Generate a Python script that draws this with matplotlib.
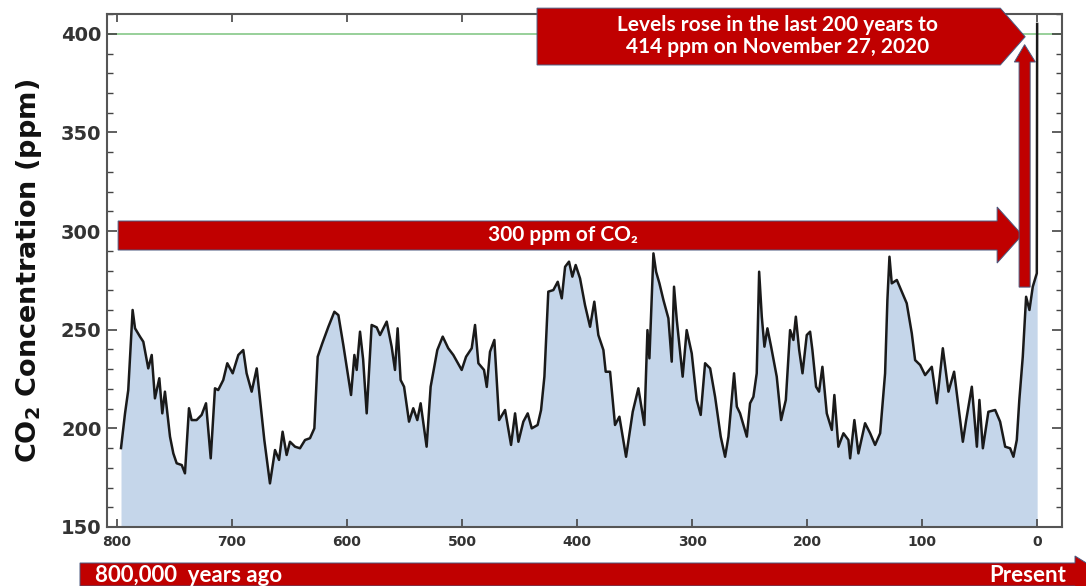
import matplotlib
matplotlib.use("Agg")
import matplotlib.pyplot as plt
from matplotlib.patches import Polygon
from matplotlib.ticker import MultipleLocator

# CO2 record, thousands of years before present vs ppm
ages = [796.5, 793, 790.2, 786.4, 784.3, 780, 777.1, 772.8, 769.8, 767, 763.2, 760.6, 758.3,
        753.9, 751, 748.1, 743.7, 740.9, 737.4, 735.1, 730.8, 726.4, 722.6, 718.5, 714.8, 712,
        707.6, 704.1, 699.4, 694.5, 690.2, 687.3, 682.9, 678.5, 675.7, 671.9, 667, 662.6, 659.1,
        656, 652.5, 649.6, 645.2, 640.9, 636.5, 632.2, 628.4, 625.5, 621.5, 616.2, 611, 607.5,
        603.2, 596.5, 593.6, 591.6, 588.7, 586, 582.9, 578.6, 574.2, 571.3, 565.5, 561.2, 558.3,
        556, 553.4, 550.4, 546.1, 542.4, 538.9, 536, 530.8, 527.3, 521.5, 516.8, 512, 507.6,
        500.3, 496.5, 491.6, 488.7, 485.8, 480.9, 478.5, 475.7, 471.9, 467.8, 462.6, 457.4,
        453.9, 451, 446.7, 442.9, 439.4, 434.3, 431.3, 428.4, 425, 420.6, 416.8, 413.3, 410.4,
        407, 404.1, 401.2, 397.4, 393.1, 388.7, 385, 381.5, 377.1, 375.1, 371.3, 367, 363.2,
        357.4, 351.6, 346.7, 341.5, 338.8, 337.1, 333.6, 331.3, 328.4, 324.9, 320.6, 317.7,
        315.7, 313.3, 308.2, 304.7, 300.3, 296, 292.5, 288.7, 284.3, 280, 275.1, 271.3, 268.4,
        263.5, 261.1, 258.3, 256.2, 252.4, 249.6, 246.7, 243.8, 241.7, 239.4, 237.1, 234.5,
        231.3, 226.4, 222.6, 218.5, 214.8, 211.9, 209.8, 206.9, 204, 200.3, 197.4, 195.4, 192.2,
        189.6, 186.7, 182.9, 178.5, 176.3, 172.8, 168.4, 164.1, 162.6, 158.9, 155.4, 149.6,
        145.2, 140.9, 136.5, 132.2, 130.2, 128.4, 126.4, 122, 117.7, 113.4, 109, 106.1, 101.7,
        97.4, 91.6, 87.2, 82, 77.1, 72.2, 68.4, 64.6, 61.7, 56.8, 52.4, 50.2, 47.2, 42.4, 36.5,
        32.2, 27.8, 23.5, 20.6, 17.7, 15.5, 12.5, 9.6, 6.7, 3.8, 0.3, 0.0]
co2 = [190, 207.6, 219.4, 260, 250.7, 246.5, 243.9, 230.4, 237.2, 215.2, 225.4, 207.6, 218.6,
       195.8, 187.3, 182.3, 181.4, 177.2, 210.2, 204.2, 204.2, 206.8, 212.7, 184.8, 220.3, 219.4,
       224.5, 233, 227.9, 237.2, 239.7, 227.9, 218.6, 230.4, 215.2, 194.1, 172.1, 189, 184,
       198.3, 186.5, 193.2, 190.7, 189.9, 194.1, 195, 200, 236.3, 243.1, 251.5, 259.1, 257.4,
       242.2, 216.9, 237.2, 229.6, 249, 235, 207.6, 252.4, 251.2, 247.3, 254.1, 241.4, 229.6,
       250.7, 224.5, 221.1, 203.4, 210.2, 204.2, 212.7, 190.7, 221.1, 239.7, 246.5, 240.6, 237.2,
       229.6, 236.3, 240.6, 252.4, 233, 229.6, 221, 238.8, 244.8, 204.2, 209.3, 191.6,
       207.6, 193.2, 203.4, 207.6, 200, 201.7, 209.3, 226.2, 269.3, 270.1, 274.3, 265.9, 281.9,
       284.5, 276.9, 282.8, 276, 262.5, 251.5, 264.2, 247.3, 239.7, 228.7, 228.7, 201.7, 205.9,
       185.6, 208.4, 220.3, 201.7, 249.8, 235.5, 288.7, 279.4, 273.5, 265, 255.8, 233.8,
       271.8, 254.9, 226.2, 249.8, 238, 214.4, 206.8, 233, 230.4, 216, 195.8, 185.6, 195.8,
       227.9, 211, 207.6, 203.4, 195.8, 212.7, 216, 227.9, 279.4, 256.6, 241.4, 250.7,
       241.4, 226.2, 204.2, 214.4, 249.8, 244.8, 256.6, 239.7, 227.9, 247.3, 249, 239.7, 221.1,
       218.6, 231.2, 207.6, 199.2, 216.9, 190.7, 197.5, 194.1, 184.8, 204.2, 187.3, 202.6,
       197.5, 191.6, 197.5, 227.9, 265, 287, 273.5, 275.2, 269.3, 263.4, 248.2, 234.6, 232.1,
       227, 231.2, 212.7, 240.6, 218.6, 228.7, 211, 193.2, 204.2, 221.1, 190.7, 214.4, 189.9,
       208.4, 209.3, 203.4, 190.7, 189.9, 185.6, 194.1, 214.4, 236.3, 266.7, 260, 271.8, 278.6,
       405]

y_ticks = [150, 200, 250, 300, 350, 400]
x_ticks = [800, 700, 600, 500, 400, 300, 200, 100, 0]

red = "#C00000"
edge = "#4a5a80"
txt_font = ["Lato", "DejaVu Sans"]

plt.rcParams["mathtext.fontset"] = "custom"
plt.rcParams["mathtext.bf"] = "DejaVu Sans:bold"
plt.rcParams["mathtext.rm"] = "DejaVu Sans:bold"

fig = plt.figure(figsize=(10.86, 5.86), dpi=100)
ax = fig.add_axes([0.0985, 0.1007, 0.8795, 0.8753])

ax.fill_between(ages, co2, 150, color="#c5d6ea", lw=0)
ax.plot(ages, co2, color="#1a1a1a", lw=1.8)
ax.axhline(400, color="#7cc47f", lw=1.1, zorder=1)

ax.set_xlim(808.7, -21.7)
ax.set_ylim(150, 410)
ax.set_xticks(x_ticks)
ax.set_yticks(y_ticks)
ax.yaxis.set_minor_locator(MultipleLocator(10))
ax.tick_params(axis="both", which="both", direction="in", top=True, right=True,
               color="#444444")
ax.tick_params(axis="y", which="major", length=7, width=1.2, labelsize=14, pad=4)
ax.tick_params(axis="y", which="minor", length=4, width=1.0)
ax.tick_params(axis="x", which="major", length=6, width=1.2, labelsize=10, pad=6)
for lab in ax.get_xticklabels() + ax.get_yticklabels():
    lab.set_fontweight("bold")
    lab.set_fontfamily("DejaVu Sans")
    lab.set_color("#333333")
for sp in ax.spines.values():
    sp.set_color("#555555")
    sp.set_linewidth(1.5)

ax.set_ylabel(r"CO$_\mathbf{2}$ Concentration (ppm)", fontsize=19.5, fontweight="bold",
              family="DejaVu Sans", color="#111111", labelpad=12)

# 300 ppm arrow
arrow300 = Polygon([(799, 305.1), (34.8, 305.1), (34.8, 312.2), (13, 298), (34.8, 283.8),
                    (34.8, 290.4), (799, 290.4)], closed=True, fc=red, ec=edge, lw=0.7,
                   zorder=5)
ax.add_patch(arrow300)
ax.text(412, 298, "300 ppm of CO₂", color="white", fontsize=15, fontweight="bold",
        family=txt_font, ha="center", va="center", zorder=6)

# vertical rise arrow
rise = Polygon([(15.7, 271.6), (15.7, 385.7), (19.8, 385.7), (10.9, 394.5), (1.5, 385.7),
                (6.1, 385.7), (6.1, 271.6)], closed=True, fc=red, ec=edge, lw=0.7, zorder=5)
ax.add_patch(rise)

# callout at the top
callout = Polygon([(434.8, 413), (32, 413), (10.4, 398.5), (32, 384.2), (434.8, 384.2)],
                  closed=True, fc=red, ec=edge, lw=0.7, zorder=5, clip_on=False)
ax.add_patch(callout)
ax.text(226, 399, "Levels rose in the last 200 years to\n414 ppm on November 27, 2020",
        color="white", fontsize=15, fontweight="bold", family=txt_font, ha="center",
        va="center", linespacing=1.12, zorder=6, clip_on=False)

# time arrow along the bottom
W, H = 1086.0, 586.0
pts = [(80, 563), (1075, 563), (1075, 556), (1105, 574.5), (1075, 593), (1075, 586), (80, 586)]
bottom = Polygon([(x / W, 1 - y / H) for x, y in pts], closed=True, fc=red, ec=edge, lw=0.7,
                 transform=fig.transFigure)
fig.patches.append(bottom)
fig.text(95 / W, 1 - 575 / H, "800,000  years ago", color="white", fontsize=16,
         fontweight="bold", family=txt_font, ha="left", va="center")
fig.text(1066 / W, 1 - 575 / H, "Present", color="white", fontsize=16, fontweight="bold",
         family=txt_font, ha="right", va="center")

fig.savefig("out.png", dpi=100)
